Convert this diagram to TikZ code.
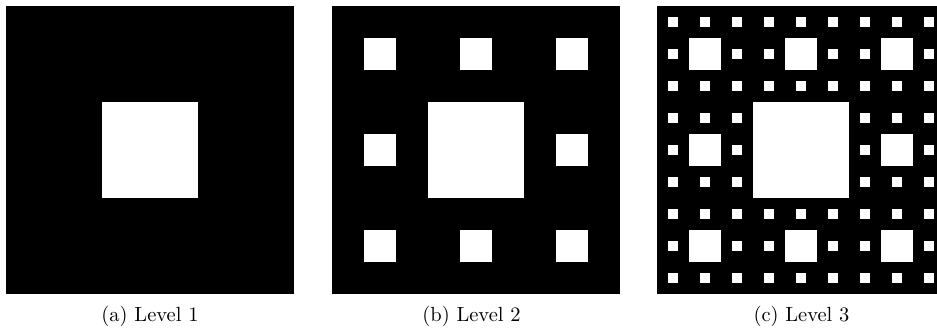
\documentclass[tikz,border=0pt]{standalone}
\begin{document}
\begin{tikzpicture}[x=0.4878pt,y=-0.4878pt]
\tikzset{
  carpet/.style={fill=black},
  hole/.style={fill=white},
  caption/.style={anchor=base, inner sep=0pt},
}
\clip (0,0) rectangle (937,332);
\fill[white] (0,0) rectangle (937,332);
% Sierpinski carpets of levels 1, 2 and 3, side 288
\foreach \xo/\lev in {6/1,332/2,657/3} {
  \fill[carpet] (\xo,6) rectangle ++(288,288);
  \foreach \k in {1,...,\lev} {
    \pgfmathsetmacro\cs{288/3^\k}
    \pgfmathtruncatemacro\m{3^(\k-1)-1}
    \foreach \i in {0,...,\m} {
      \foreach \j in {0,...,\m} {
        \fill[hole] (\xo+3*\i*\cs+\cs, 6+3*\j*\cs+\cs) rectangle ++(\cs,\cs);
      }
    }
  }
}
\node[caption] (capa) at (150,321.7) {(a) Level 1};
\node[caption] (capb) at (471.5,321.7) {(b) Level 2};
\node[caption] (capc) at (801.5,321.7) {(c) Level 3};
\end{tikzpicture}
\end{document}
